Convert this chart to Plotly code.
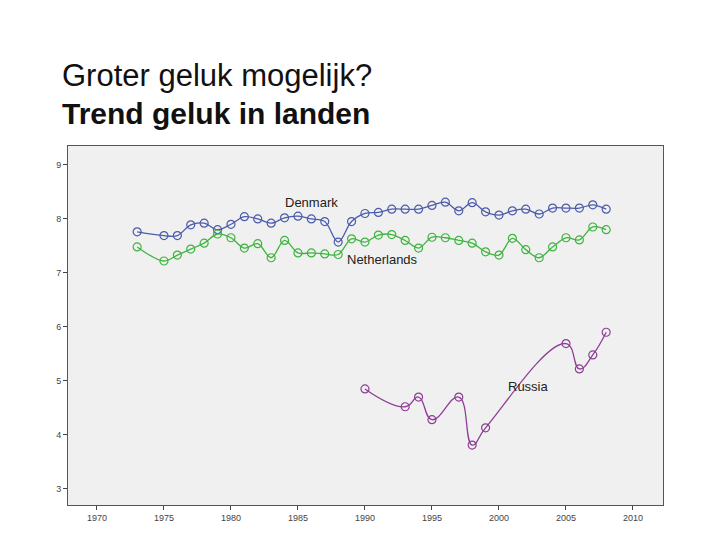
import plotly.graph_objects as go

dk_years = [1973,1975,1976,1977,1978,1979,1980,1981,1982,1983,1984,1985,1986,1987,1988,1989,1990,1991,1992,1993,1994,1995,1996,1997,1998,1999,2000,2001,2002,2003,2004,2005,2006,2007,2008]
dk_vals = [7.76,7.69,7.69,7.89,7.92,7.80,7.90,8.04,8.00,7.92,8.02,8.05,8.00,7.95,7.57,7.95,8.10,8.12,8.18,8.18,8.18,8.25,8.31,8.15,8.30,8.13,8.07,8.15,8.18,8.09,8.20,8.20,8.20,8.26,8.18]
nl_years = dk_years
nl_vals = [7.48,7.22,7.33,7.44,7.55,7.72,7.65,7.46,7.54,7.28,7.60,7.37,7.37,7.35,7.34,7.63,7.57,7.70,7.71,7.60,7.46,7.66,7.65,7.60,7.55,7.39,7.33,7.64,7.43,7.28,7.48,7.65,7.61,7.85,7.80]
ru_years = [1990,1993,1994,1995,1997,1998,1999,2005,2006,2007,2008]
ru_vals = [4.85,4.52,4.70,4.28,4.70,3.81,4.13,5.69,5.22,5.48,5.90]
x_ticks = [1970,1975,1980,1985,1990,1995,2000,2005,2010]
y_ticks = [3,4,5,6,7,8,9]

fig = go.Figure()
for xs, ys, col, sm in [(dk_years, dk_vals, "#4b5cab", 1.0), (nl_years, nl_vals, "#3fb440", 1.0), (ru_years, ru_vals, "#8e3f95", 1.3)]:
    fig.add_trace(go.Scatter(x=xs, y=ys, mode="lines+markers",
        line=dict(color=col, width=1.3, shape="spline", smoothing=sm),
        marker=dict(symbol="circle-open", size=8, color=col, line=dict(width=1.2)),
        showlegend=False, hoverinfo="skip"))

for txt, x, y in [("Denmark", 1986.0, 8.31), ("Netherlands", 1991.3, 7.24), ("Russia", 2002.2, 4.89)]:
    fig.add_annotation(x=x, y=y, text=txt, showarrow=False, xref="x", yref="y",
                       font=dict(family="Liberation Sans", size=13, color="#222"))

PL, PT, PW, PH = 68, 146, 595, 359
def px(x): return (x - PL) / PW
def py(y): return (PT + PH - y) / PH

fig.add_annotation(text="Groter geluk mogelijk?", x=px(60), y=py(75), xref="paper", yref="paper",
                   xanchor="left", yanchor="middle", showarrow=False,
                   font=dict(family="Liberation Sans", size=31, color="#111"))
fig.add_annotation(text="<b>Trend geluk in landen</b>", x=px(60), y=py(113), xref="paper", yref="paper",
                   xanchor="left", yanchor="middle", showarrow=False,
                   font=dict(family="Liberation Sans", size=30, color="#111"))

fig.update_layout(
    width=720, height=540, paper_bgcolor="white", plot_bgcolor="#f0f0f0",
    margin=dict(l=60, r=65, t=138, b=43),
    xaxis=dict(range=[1967.84, 2012.24], tickvals=x_ticks, showgrid=False, zeroline=False,
               ticks="outside", ticklen=4, tickcolor="#444", showline=True, linecolor="#555", mirror=True,
               tickfont=dict(size=9, color="#444", family="Liberation Sans")),
    yaxis=dict(range=[2.70, 9.35], tickvals=y_ticks, showgrid=False, zeroline=False,
               ticks="outside", ticklen=4, tickcolor="#444", showline=True, linecolor="#555", mirror=True,
               tickfont=dict(size=9, color="#444", family="Liberation Sans")),
)
fig.write_html("out.html")
